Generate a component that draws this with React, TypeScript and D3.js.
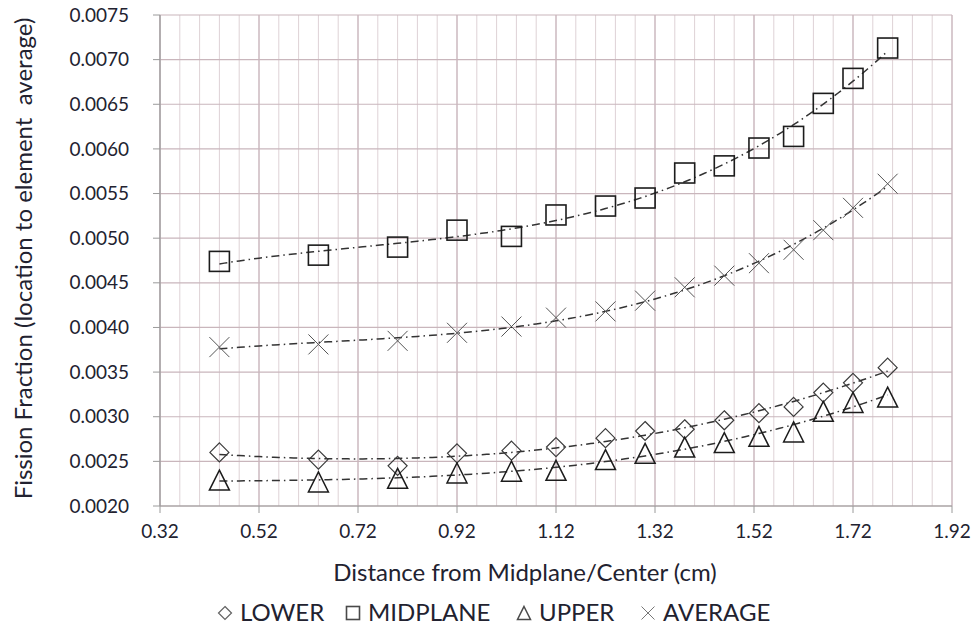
import React from 'react';
import * as d3 from 'd3';

// distance from midplane (cm)
const distance = [0.44, 0.64, 0.8, 0.92, 1.03, 1.12, 1.22, 1.3, 1.38, 1.46, 1.53, 1.6, 1.66, 1.72, 1.79];

const lower = [0.0026, 0.00252, 0.00245, 0.00259, 0.00262, 0.00266, 0.00276, 0.00284, 0.00286, 0.00296, 0.00304, 0.00311, 0.00327, 0.00338, 0.00355];
const midplane = [0.00474, 0.00481, 0.0049, 0.00509, 0.00502, 0.00526, 0.00536, 0.00545, 0.00573, 0.00581, 0.00601, 0.00614, 0.00651, 0.00679, 0.00713];
const upper = [0.00229, 0.00227, 0.00231, 0.00237, 0.00239, 0.0024, 0.00252, 0.00259, 0.00266, 0.00271, 0.00278, 0.00283, 0.00306, 0.00316, 0.00322];
const average = [0.00378, 0.00381, 0.00385, 0.00394, 0.00401, 0.00411, 0.00418, 0.0043, 0.00445, 0.00458, 0.00472, 0.00487, 0.00509, 0.00534, 0.00561];

const xTicks = [0.32, 0.52, 0.72, 0.92, 1.12, 1.32, 1.52, 1.72, 1.92];
const yTicks = [0.002, 0.0025, 0.003, 0.0035, 0.004, 0.0045, 0.005, 0.0055, 0.006, 0.0065, 0.007, 0.0075];

const series = [
  { name: 'LOWER', values: lower, marker: 'diamond' },
  { name: 'MIDPLANE', values: midplane, marker: 'square' },
  { name: 'UPPER', values: upper, marker: 'triangle' },
  { name: 'AVERAGE', values: average, marker: 'cross' },
];

const W = 976;
const H = 632;
const margin = { left: 160, right: 24, top: 15, bottom: 126 };
const font = 'Lato, "Open Sans", sans-serif';
const textColor = '#222230';
const gridColor = '#c9b6bc';
const minorColor = '#ded2d6';

// least-squares polynomial trendline (Excel style), degree 3
function polyFit(xs: number[], ys: number[], deg: number) {
  const n = deg + 1;
  const m: number[][] = [];
  for (let r = 0; r < n; r++) {
    const row: number[] = [];
    for (let c = 0; c < n; c++) row.push(d3.sum(xs, (x) => x ** (r + c)));
    row.push(d3.sum(xs, (x, i) => ys[i] * x ** r));
    m.push(row);
  }
  for (let c = 0; c < n; c++) {
    for (let r = c + 1; r < n; r++) {
      const f = m[r][c] / m[c][c];
      for (let k = c; k <= n; k++) m[r][k] -= f * m[c][k];
    }
  }
  const co = new Array(n).fill(0);
  for (let r = n - 1; r >= 0; r--) {
    let s = m[r][n];
    for (let k = r + 1; k < n; k++) s -= m[r][k] * co[k];
    co[r] = s / m[r][r];
  }
  return (x: number) => co.reduce((a, c, i) => a + c * x ** i, 0);
}

function Marker({ type, x, y, s }: { type: string; x: number; y: number; s: number }) {
  const h = s / 2;
  if (type === 'square') {
    return <rect x={x - h} y={y - h} width={s} height={s} fill="none" stroke="#1c1c1c" strokeWidth={1.6} />;
  }
  if (type === 'diamond') {
    return <path d={`M${x},${y - h}L${x + h},${y}L${x},${y + h}L${x - h},${y}Z`} fill="none" stroke="#3a3a3a" strokeWidth={1.2} />;
  }
  if (type === 'triangle') {
    return <path d={`M${x},${y - h}L${x + h},${y + h}L${x - h},${y + h}Z`} fill="none" stroke="#1c1c1c" strokeWidth={1.5} />;
  }
  return (
    <path d={`M${x - h},${y - h}L${x + h},${y + h}M${x - h},${y + h}L${x + h},${y - h}`} fill="none" stroke="#555" strokeWidth={1} />
  );
}

export default function App() {
  const x = d3.scaleLinear().domain([0.32, 1.92]).range([margin.left, W - margin.right]);
  const y = d3.scaleLinear().domain([0.002, 0.0075]).range([H - margin.bottom, margin.top]);
  const minorTicks = d3.range(0.32, 1.92 + 1e-9, 0.04);
  const [x0, x1] = x.range();
  const [y0, y1] = y.range();

  const line = d3.line<number[]>().x((d) => x(d[0])).y((d) => y(d[1]));

  return (
    <svg width={W} height={H} style={{ position: 'absolute', left: 0, top: 0, background: '#fff' }}>
      {/* minor vertical grid */}
      {minorTicks.map((t, i) => (
        <line key={'mv' + i} x1={x(t)} x2={x(t)} y1={y1} y2={y0} stroke={minorColor} strokeWidth={1} />
      ))}
      {xTicks.map((t) => (
        <line key={'xv' + t} x1={x(t)} x2={x(t)} y1={y1} y2={y0} stroke={gridColor} strokeWidth={1.2} />
      ))}
      {yTicks.map((t) => (
        <line key={'yh' + t} x1={x0} x2={x1} y1={y(t)} y2={y(t)} stroke={gridColor} strokeWidth={1.2} />
      ))}
      {/* axes */}
      <line x1={x0} x2={x0} y1={y1} y2={y0} stroke="#9a9a9a" strokeWidth={1.2} />
      <line x1={x0} x2={x1} y1={y0} y2={y0} stroke="#9a9a9a" strokeWidth={1.2} />
      {yTicks.map((t) => (
        <g key={'yt' + t}>
          <line x1={x0 - 7} x2={x0} y1={y(t)} y2={y(t)} stroke="#9a9a9a" />
          <text x={x0 - 31} y={y(t)} dy="0.35em" textAnchor="end" fontFamily={font} fontSize={19} fill={textColor}>
            {t.toFixed(4)}
          </text>
        </g>
      ))}
      {xTicks.map((t) => (
        <g key={'xt' + t}>
          <line x1={x(t)} x2={x(t)} y1={y0} y2={y0 + 7} stroke="#9a9a9a" />
          <text x={x(t)} y={y0 + 32} textAnchor="middle" fontFamily={font} fontSize={19} fill={textColor}>
            {t.toFixed(2)}
          </text>
        </g>
      ))}

      {/* trendlines */}
      {series.map((s) => {
        const f = polyFit(distance, s.values, 3);
        const xs = d3.range(distance[0], distance[distance.length - 1] + 1e-9, 0.01);
        return (
          <path
            key={'tl' + s.name}
            d={line(xs.map((v) => [v, f(v)])) || ''}
            fill="none"
            stroke="#333"
            strokeWidth={1.5}
            strokeDasharray="8,4,1.5,4"
          />
        );
      })}

      {/* markers */}
      {series.map((s) =>
        s.values.map((v, i) => (
          <Marker key={s.name + i} type={s.marker} x={x(distance[i])} y={y(v)} s={s.marker === 'diamond' ? 19 : 20} />
        ))
      )}

      {/* axis titles */}
      <text x={525} y={581} textAnchor="middle" fontFamily={font} fontSize={24} fill={textColor}>
        Distance from Midplane/Center (cm)
      </text>
      <text
        transform={`translate(32,${(y0 + y1) / 2 - 2}) rotate(-90)`}
        textAnchor="middle"
        fontFamily={font}
        fontSize={24}
        fill={textColor}
        style={{ whiteSpace: 'pre' }}
      >
        {'Fission Fraction (location to element  average)'}
      </text>

      {/* legend */}
      {(() => {
        const pos = [218, 346, 517, 641];
        return series.map((s, i) => (
          <g key={'lg' + s.name}>
            <g opacity={0.8}>
              <Marker type={s.marker} x={pos[i] + 7} y={613} s={13} />
            </g>
            <text x={pos[i] + 22} y={613} dy="0.35em" fontFamily={font} fontSize={24} fill={textColor}>
              {s.name}
            </text>
          </g>
        ));
      })()}
    </svg>
  );
}
